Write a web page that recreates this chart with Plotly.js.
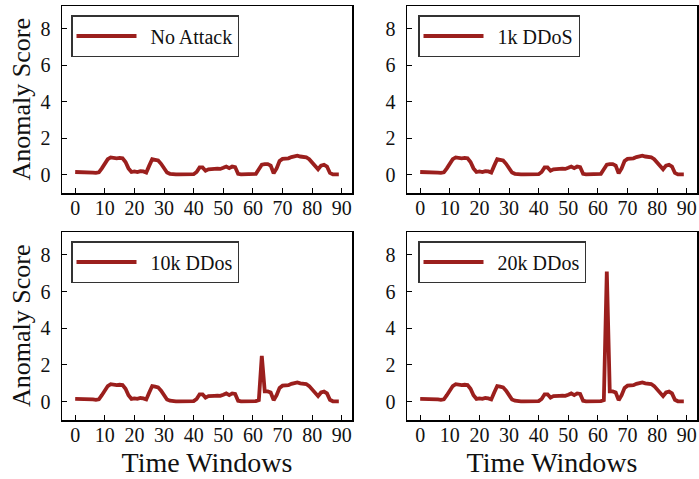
<!DOCTYPE html>
<html>
<head>
<meta charset="utf-8">
<script src="https://cdn.plot.ly/plotly-3.0.1.min.js"></script>
<style>html,body{margin:0;padding:0;background:#fff}#chart{width:699px;height:479px}</style>
</head>
<body>
<div id="chart"></div>
<script>
const windows = [0,1,2,3,4,5,6,7,8,9,10,11,12,13,14,15,16,17,18,19,20,21,22,23,24,25,26,27,28,29,30,31,32,33,34,35,36,37,38,39,40,41,42,43,44,45,46,47,48,49,50,51,52,53,54,55,56,57,58,59,60,61,62,63,64,65,66,67,68,69,70,71,72,73,74,75,76,77,78,79,80,81,82,83,84,85,86,87,88,89];

const noAttack = [0.15,0.15,0.16,0.16,0.15,0.14,0.12,0.10,0.13,0.35,0.65,0.85,0.95,0.90,0.90,0.92,0.90,0.70,0.35,0.15,0.18,0.15,0.20,0.18,0.12,0.50,0.85,0.82,0.78,0.60,0.35,0.12,0.05,0.02,0.02,0.02,0.02,0.02,0.02,0.02,0.03,0.15,0.40,0.40,0.22,0.30,0.33,0.32,0.33,0.32,0.38,0.45,0.36,0.45,0.42,0.05,0.02,0.02,0.02,0.02,0.02,0.05,0.30,0.55,0.58,0.58,0.50,0.08,0.35,0.75,0.87,0.88,0.90,0.97,1.02,1.05,1.00,0.97,0.96,0.85,0.65,0.50,0.30,0.50,0.55,0.45,0.10,0.02,0.02,0.02];
const ddos1k = [0.15,0.15,0.16,0.16,0.15,0.14,0.12,0.10,0.13,0.35,0.65,0.85,0.95,0.90,0.90,0.92,0.90,0.70,0.35,0.15,0.18,0.15,0.20,0.18,0.12,0.50,0.85,0.82,0.78,0.60,0.35,0.12,0.05,0.02,0.02,0.02,0.02,0.02,0.02,0.02,0.03,0.15,0.40,0.40,0.22,0.30,0.33,0.32,0.33,0.32,0.38,0.45,0.36,0.45,0.42,0.05,0.02,0.02,0.02,0.02,0.02,0.05,0.30,0.55,0.58,0.58,0.50,0.08,0.35,0.75,0.87,0.88,0.90,0.97,1.02,1.05,1.00,0.97,0.96,0.85,0.65,0.50,0.30,0.50,0.55,0.45,0.10,0.02,0.02,0.02];
const ddos10k = [0.15,0.15,0.16,0.16,0.15,0.14,0.12,0.10,0.13,0.35,0.65,0.85,0.95,0.90,0.90,0.92,0.90,0.70,0.35,0.15,0.18,0.15,0.20,0.18,0.12,0.50,0.85,0.82,0.78,0.60,0.35,0.12,0.05,0.02,0.02,0.02,0.02,0.02,0.02,0.02,0.03,0.15,0.40,0.40,0.22,0.30,0.33,0.32,0.33,0.32,0.38,0.45,0.36,0.45,0.42,0.05,0.02,0.02,0.02,0.02,0.02,0.03,0.08,2.50,0.56,0.56,0.50,0.08,0.35,0.75,0.87,0.88,0.90,0.97,1.02,1.05,1.00,0.97,0.96,0.85,0.65,0.50,0.30,0.50,0.55,0.45,0.10,0.02,0.02,0.02];
const ddos20k = [0.15,0.15,0.16,0.16,0.15,0.14,0.12,0.10,0.13,0.35,0.65,0.85,0.95,0.90,0.90,0.92,0.90,0.70,0.35,0.15,0.18,0.15,0.20,0.18,0.12,0.50,0.85,0.82,0.78,0.60,0.35,0.12,0.05,0.02,0.02,0.02,0.02,0.02,0.02,0.02,0.03,0.15,0.40,0.40,0.22,0.30,0.33,0.32,0.33,0.32,0.38,0.45,0.36,0.45,0.42,0.05,0.02,0.02,0.02,0.02,0.02,0.03,0.08,7.10,0.56,0.56,0.50,0.08,0.35,0.75,0.87,0.88,0.90,0.97,1.02,1.05,1.00,0.97,0.96,0.85,0.65,0.50,0.30,0.50,0.55,0.45,0.10,0.02,0.02,0.02];

const seriesNames = ["No Attack","1k DDoS","10k DDos","20k DDos"];
const xTicks = [0,10,20,30,40,50,60,70,80,90];
const yTicks = [0,2,4,6,8];
const xTitle = "Time Windows";
const yTitle = "Anomaly Score";

const W = 699, H = 479;
const color = "#9b1f1d";
const FONT = "Liberation Serif";
const all = [noAttack, ddos1k, ddos10k, ddos20k];
const axIds = [["x","y"],["x2","y2"],["x3","y3"],["x4","y4"]];
const legIds = ["legend","legend2","legend3","legend4"];

const traces = all.map((vals,i)=>({
  x: windows, y: vals, type:"scatter", mode:"lines",
  name: seriesNames[i], xaxis: axIds[i][0], yaxis: axIds[i][1],
  legend: legIds[i],
  line:{color:color, width:3.8}
}));

const xDom = [[62/W,352/W],[407/W,697/W]];
const yDom = [[1-193/H,1-6/H],[1-420/H,1-232/H]];

function xa(col, row){
  return {domain:xDom[col], range:[-4.45,93.45], tickvals:xTicks, ticktext:xTicks.map(String),
    ticks:"inside", ticklen:5, tickwidth:1, tickcolor:"#000",
    showline:true, mirror:true, linecolor:"#000", linewidth:1.5,
    showgrid:false, zeroline:false, tickfont:{family:FONT,size:20,color:"#111"},
    ticklabelstandoff:-4,
    anchor: axIds[row*2+col][1],
    title: row===1 ? {text:xTitle, font:{family:FONT,size:28,color:"#111"}, standoff:8} : undefined
  };
}
function ya(col,row){
  return {domain:yDom[row], range:[-1.0,9.25], tickvals:yTicks, ticktext:yTicks.map(String),
    ticks:"inside", ticklen:5, tickwidth:1, tickcolor:"#000",
    showline:true, mirror:true, linecolor:"#000", linewidth:1.5,
    showgrid:false, zeroline:false, tickfont:{family:FONT,size:20,color:"#111"},
    ticklabelstandoff:6,
    anchor: axIds[row*2+col][0]
  };
}
function leg(x,y){
  return {x:x/W, y:1-y/H, xanchor:"left", yanchor:"top", bgcolor:"#fff",
    bordercolor:"#333", borderwidth:1.5, font:{family:FONT,size:20,color:"#111"},
    itemwidth:68, tracegroupgap:0};
}
const yTitleAnn = yDom.map(d=>({
  text:yTitle, xref:"paper", yref:"paper", x:21/W, y:(d[0]+d[1])/2,
  xanchor:"center", yanchor:"middle", textangle:-90, showarrow:false,
  font:{family:FONT,size:26,color:"#111"}
}));

const layout = {
  width:W, height:H, margin:{l:0,r:0,t:0,b:0}, paper_bgcolor:"#fff", plot_bgcolor:"#fff",
  showlegend:true,
  xaxis:xa(0,0), yaxis:ya(0,0),
  xaxis2:xa(1,0), yaxis2:ya(1,0),
  xaxis3:xa(0,1), yaxis3:ya(0,1),
  xaxis4:xa(1,1), yaxis4:ya(1,1),
  legend:leg(71,15), legend2:leg(418,15), legend3:leg(71,241), legend4:leg(418,241),
  annotations:yTitleAnn
};
Plotly.newPlot("chart", traces, layout, {displayModeBar:false, staticPlot:true}).then(gd=>{
  // lengthen legend line samples to match the reference
  gd.querySelectorAll(".legendlines path").forEach(p=>p.setAttribute("d","M4,0h60"));
});
</script>
</body>
</html>
